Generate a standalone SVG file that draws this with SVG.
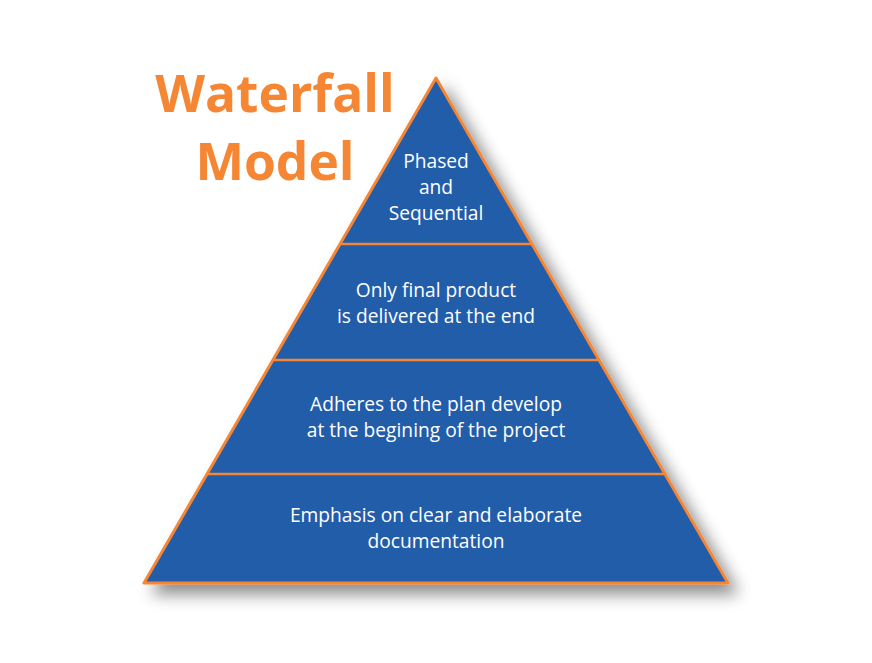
<svg xmlns="http://www.w3.org/2000/svg" width="872" height="663" viewBox="0 0 872 663">
<style>
.title{font-family:"Open Sans","Noto Sans","Liberation Sans",sans-serif;font-weight:700;font-size:51.5px;fill:#F58634;text-anchor:middle}
.lbl{font-family:"Open Sans","Noto Sans","Liberation Sans",sans-serif;font-size:19.2px;fill:#FFFFFF;text-anchor:middle}
.div{stroke:#F58634;stroke-width:2.5;fill:none}
</style>
<defs>
<filter id="sh" x="-20%" y="-20%" width="150%" height="150%">
<feDropShadow dx="9" dy="10" stdDeviation="8" flood-color="#000" flood-opacity="0.45"/>
</filter>
</defs>
<rect width="872" height="663" fill="#FFFFFF"/>
<g id="title">
<text class="title" x="275" y="112">Waterfall</text>
<text class="title" x="275" y="180">Model</text>
</g>
<g id="pyramid">
<polygon points="436,78 144,583 728,583" fill="#225DAA" stroke="#F58634" stroke-width="3" stroke-linejoin="round" filter="url(#sh)"/>
</g>
<g id="connectors">
<line class="div" x1="340" y1="244" x2="532" y2="244"/>
<line class="div" x1="273" y1="360" x2="599" y2="360"/>
<line class="div" x1="207" y1="474" x2="665" y2="474"/>
</g>
<g id="level1">
<text class="lbl" x="436" y="168">Phased</text>
<text class="lbl" x="436" y="194">and</text>
<text class="lbl" x="436" y="220">Sequential</text>
</g>
<g id="level2">
<text class="lbl" x="436" y="297">Only final product</text>
<text class="lbl" x="436" y="323">is delivered at the end</text>
</g>
<g id="level3">
<text class="lbl" x="436" y="411">Adheres to the plan develop</text>
<text class="lbl" x="436" y="437">at the begining of the project</text>
</g>
<g id="level4">
<text class="lbl" x="436" y="522">Emphasis on clear and elaborate</text>
<text class="lbl" x="436" y="548">documentation</text>
</g>
</svg>
